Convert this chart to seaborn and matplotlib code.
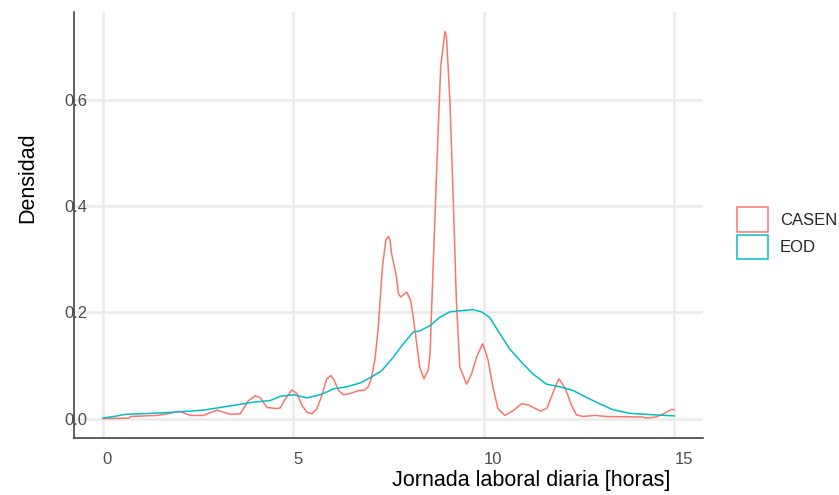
import pandas as pd
import seaborn as sns
import matplotlib.pyplot as plt
from matplotlib.patches import Patch

# curves (hours, density)
casen_x = [0.0, 0.69, 0.73, 1.43, 1.78, 2.00, 2.30, 2.65, 3.00, 3.35, 3.61, 3.83, 4.01, 4.14,
           4.31, 4.55, 4.66, 4.79, 4.97, 5.10, 5.23, 5.36, 5.49, 5.62, 5.75, 5.88, 5.99, 6.07,
           6.19, 6.32, 6.49, 6.67, 6.88, 6.97, 7.06, 7.15, 7.23, 7.34, 7.43, 7.50, 7.54, 7.58,
           7.71, 7.76, 7.82, 7.98, 8.08, 8.15, 8.24, 8.32, 8.43, 8.54, 8.59, 8.67, 8.80, 8.87,
           8.98, 9.02, 9.11, 9.20, 9.28, 9.37, 9.55, 9.68, 9.81, 9.97, 10.11, 10.24, 10.37,
           10.55, 10.77, 10.99, 11.16, 11.49, 11.66, 11.82, 11.97, 12.12, 12.21, 12.30, 12.43,
           12.60, 12.91, 13.21, 14.17, 14.26, 14.52, 14.74, 14.91, 15.0]
casen_y = [0.000, 0.001, 0.004, 0.006, 0.010, 0.014, 0.006, 0.006, 0.016, 0.008, 0.009, 0.034,
           0.043, 0.039, 0.021, 0.019, 0.020, 0.037, 0.054, 0.047, 0.025, 0.012, 0.009, 0.018,
           0.043, 0.075, 0.081, 0.073, 0.053, 0.045, 0.047, 0.052, 0.054, 0.060, 0.078, 0.115,
           0.170, 0.285, 0.336, 0.343, 0.336, 0.311, 0.267, 0.235, 0.229, 0.238, 0.223, 0.191,
           0.141, 0.097, 0.075, 0.091, 0.122, 0.285, 0.537, 0.663, 0.729, 0.720, 0.600, 0.410,
           0.223, 0.097, 0.065, 0.084, 0.116, 0.141, 0.111, 0.059, 0.019, 0.006, 0.015, 0.028,
           0.026, 0.014, 0.020, 0.050, 0.075, 0.059, 0.043, 0.025, 0.007, 0.004, 0.006, 0.004,
           0.003, 0.001, 0.003, 0.010, 0.017, 0.017]

eod_x = [0.0, 0.30, 0.60, 1.30, 1.87, 2.65, 3.44, 3.96, 4.40, 4.66, 5.01, 5.36, 5.71, 6.06,
         6.41, 6.75, 7.02, 7.32, 7.63, 7.89, 8.15, 8.32, 8.59, 8.85, 9.11, 9.37, 9.72, 9.94,
         10.16, 10.42, 10.68, 11.03, 11.29, 11.64, 11.99, 12.34, 12.69, 13.04, 13.38, 13.82,
         14.26, 15.0]
eod_y = [0.001, 0.004, 0.008, 0.010, 0.012, 0.016, 0.025, 0.031, 0.034, 0.042, 0.045, 0.039,
         0.045, 0.056, 0.060, 0.067, 0.077, 0.090, 0.116, 0.141, 0.163, 0.165, 0.175, 0.191,
         0.201, 0.203, 0.205, 0.201, 0.190, 0.160, 0.131, 0.103, 0.084, 0.065, 0.060, 0.053,
         0.040, 0.028, 0.017, 0.010, 0.008, 0.005]

x_ticks = [0, 5, 10, 15]
x_tick_labels = ["0", "5", "10", "15"]
y_ticks = [0.0, 0.2, 0.4, 0.6]
y_tick_labels = ["0.0", "0.2", "0.4", "0.6"]
series_colors = {"CASEN": "#F8766D", "EOD": "#00BFC4"}

df = pd.concat([
    pd.DataFrame({"horas": casen_x, "densidad": casen_y, "fuente": "CASEN"}),
    pd.DataFrame({"horas": eod_x, "densidad": eod_y, "fuente": "EOD"}),
], ignore_index=True)

sns.set_theme(style="white")
plt.rcParams["font.family"] = ["Liberation Sans", "DejaVu Sans"]

W, H = 839, 495
fig = plt.figure(figsize=(W / 100, H / 100), dpi=100)
ax = fig.add_axes([74 / W, 1 - 438 / H, 629 / W, 426 / H])

sns.lineplot(data=df, x="horas", y="densidad", hue="fuente", palette=series_colors,
             sort=False, estimator=None, linewidth=1.1, legend=False, ax=ax)

ax.set_xlim(-0.75, 15.75)
ax.set_ylim(-0.0365, 0.7655)
ax.set_xticks(x_ticks)
ax.set_xticklabels(x_tick_labels, ha="left")
ax.set_yticks(y_ticks)
ax.set_yticklabels(y_tick_labels)
ax.set_xlabel("")
ax.set_ylabel("")

ax.grid(True, color="#EBEBEB", linewidth=1.8)
ax.set_axisbelow(True)
for side in ["top", "right"]:
    ax.spines[side].set_visible(False)
for side in ["left", "bottom"]:
    ax.spines[side].set_color("#333333")
    ax.spines[side].set_linewidth(1.1)

ax.tick_params(axis="x", length=3, width=1, color="#333333", labelsize=12,
               labelcolor="#4D4D4D", pad=7)
ax.tick_params(axis="y", length=0, labelsize=12, labelcolor="#4D4D4D", pad=-9.6)

fig.text(392 / W, 1 - 486 / H, "Jornada laboral diaria [horas]", ha="left",
         va="baseline", fontsize=15.5, color="black")
fig.text(33 / W, 1 - 177.5 / H, "Densidad", rotation=90, rotation_mode="anchor",
         ha="center", va="baseline", fontsize=15.5, color="black")

handles = [Patch(facecolor="white", edgecolor=c, linewidth=1.1, label=k)
           for k, c in series_colors.items()]
fig.legend(handles=handles, loc="upper left", bbox_to_anchor=(736.7 / W, 1 - 207.3 / H),
           frameon=False, fontsize=12, handlelength=1.9, handleheight=1.92,
           labelspacing=0.14, handletextpad=0.7, borderpad=0, borderaxespad=0)

fig.savefig("out.png", dpi=100)
